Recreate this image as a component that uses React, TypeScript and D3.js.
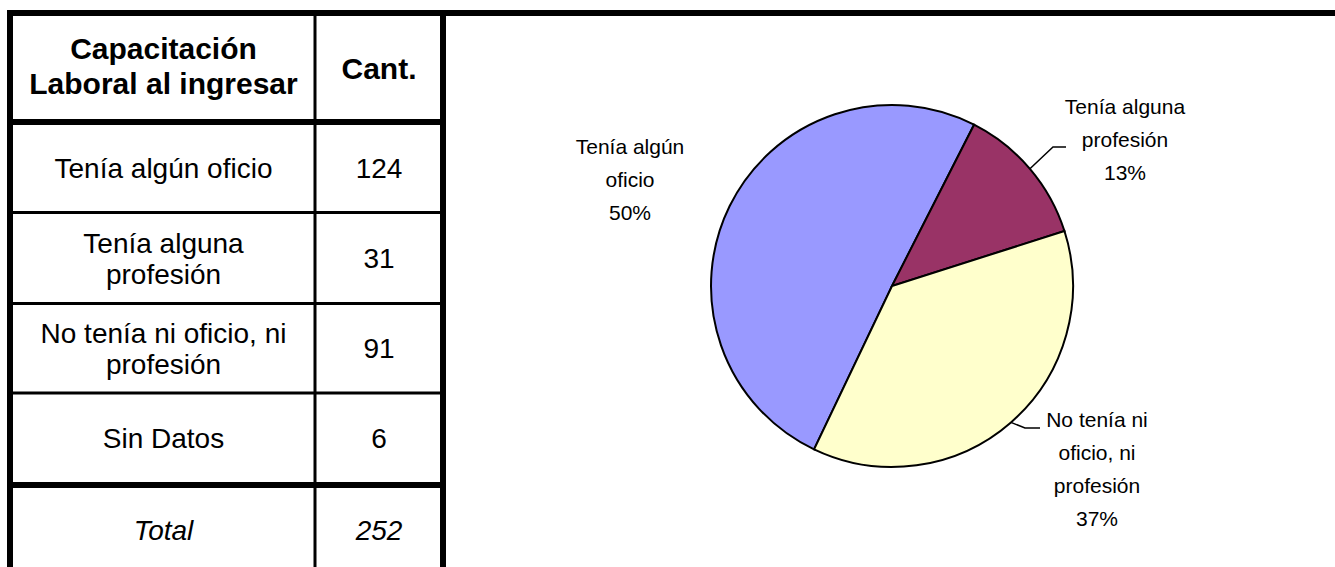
import React from 'react';
import * as d3 from 'd3';

// table data
const tableHeader = ['Capacitación', 'Laboral al ingresar'];
const countHeader = 'Cant.';
const rowLabels = [
  ['Tenía algún oficio'],
  ['Tenía alguna', 'profesión'],
  ['No tenía ni oficio, ni', 'profesión'],
  ['Sin Datos'],
];
const rowCounts = [124, 31, 91, 6];
const totalLabel = 'Total';
const totalCount = 252;

// pie data (Sin Datos left out of the chart)
const pieLabels = [
  ['Tenía algún', 'oficio'],
  ['Tenía alguna', 'profesión'],
  ['No tenía ni', 'oficio, ni', 'profesión'],
];
const pieValues = [124, 31, 91];
const pieColors = ['#9999FF', '#993366', '#FFFFCC'];

const W = 1335;
const H = 567;
const FONT = '"Liberation Sans", Arial, sans-serif';

const App = () => {
  // table layout
  const left = 10, right = 443, colX = 315, top = 13;
  const headerBottom = 122;
  const rowLines = [212.5, 303.5, 393];
  const totalLine = 485;
  const rowTops = [125, 214, 305, 394.5];
  const rowBottoms = [211, 302, 391.5, 482];

  const c1 = (left + colX) / 2 + 1;
  const c2 = (colX + right) / 2;
  const fs = 28;
  const lh = 31;

  // pie
  const cx = 892, cy = 286, r = 181;
  const total = d3.sum(pieValues);
  const start = (-154.5 * Math.PI) / 180;
  const pie = d3.pie<number>().sort(null).startAngle(start).endAngle(start + 2 * Math.PI);
  const arcs = pie(pieValues);
  const arc = d3.arc<d3.PieArcDatum<number>>().innerRadius(0).outerRadius(r);
  const pct = d3.format('.0%');

  // label placement (layout)
  const labelPos = [
    { x: 630, y: 154 },
    { x: 1125, y: 114 },
    { x: 1097, y: 427 },
  ];
  const plh = 33;
  const pfs = 21;
  const leaders: ([number, number][] | null)[] = [
    null,
    [[1053, 147], [1066, 147]],
    [[1025, 428], [1040, 428]],
  ];

  return (
    <svg width={W} height={H} style={{ position: 'absolute', left: 0, top: 0, background: '#fff' }}
      fontFamily={FONT}>
      <rect width={W} height={H} fill="#fff" />
      {/* header */}
      {tableHeader.map((t, i) => (
        <text key={t} x={c1} y={59 + i * 35} textAnchor="middle" fontSize={30} fontWeight="bold">{t}</text>
      ))}
      <text x={c2} y={79} textAnchor="middle" fontSize={30} fontWeight="bold">{countHeader}</text>
      {/* rows */}
      {rowLabels.map((lines, i) => {
        const mid = (rowTops[i] + rowBottoms[i]) / 2;
        const y0 = mid - ((lines.length - 1) * lh) / 2 + fs * 0.36;
        return (
          <g key={i}>
            {lines.map((l, j) => (
              <text key={j} x={c1} y={y0 + j * lh} textAnchor="middle" fontSize={fs}>{l}</text>
            ))}
            <text x={c2} y={mid + fs * 0.36} textAnchor="middle" fontSize={fs}>{rowCounts[i]}</text>
          </g>
        );
      })}
      <text x={c1} y={530 + fs * 0.36} textAnchor="middle" fontSize={fs} fontStyle="italic">{totalLabel}</text>
      <text x={c2} y={530 + fs * 0.36} textAnchor="middle" fontSize={fs} fontStyle="italic">{totalCount}</text>
      {/* table lines */}
      <g stroke="#000">
        <line x1={7} x2={W} y1={top} y2={top} strokeWidth={6} />
        <line x1={left} x2={left} y1={10} y2={H} strokeWidth={6} />
        <line x1={right} x2={right} y1={10} y2={H} strokeWidth={6} />
        <line x1={colX} x2={colX} y1={16} y2={H} strokeWidth={3} />
        <line x1={left} x2={right} y1={headerBottom} y2={headerBottom} strokeWidth={6} />
        {rowLines.map((y) => (
          <line key={y} x1={left} x2={right} y1={y} y2={y} strokeWidth={3} />
        ))}
        <line x1={left} x2={right} y1={totalLine} y2={totalLine} strokeWidth={6} />
      </g>
      {/* pie */}
      <g transform={`translate(${cx},${cy})`}>
        {arcs.map((a, i) => (
          <path key={i} d={arc(a) || ''} fill={pieColors[i]} stroke="#000" strokeWidth={2} />
        ))}
      </g>
      {arcs.map((a, i) => {
        const pts = leaders[i];
        if (!pts) return null;
        const mid = (a.startAngle + a.endAngle) / 2;
        const sx = cx + Math.sin(mid) * r;
        const sy = cy - Math.cos(mid) * r;
        const line = d3.line()([[sx, sy], ...pts]);
        return <path key={i} d={line || ''} fill="none" stroke="#000" strokeWidth={1.5} />;
      })}
      {arcs.map((a, i) => {
        const lines = [...pieLabels[i], pct(a.value / total)];
        return (
          <g key={i}>
            {lines.map((l, j) => (
              <text key={j} x={labelPos[i].x} y={labelPos[i].y + j * plh} textAnchor="middle" fontSize={pfs}>{l}</text>
            ))}
          </g>
        );
      })}
    </svg>
  );
};

export default App;
